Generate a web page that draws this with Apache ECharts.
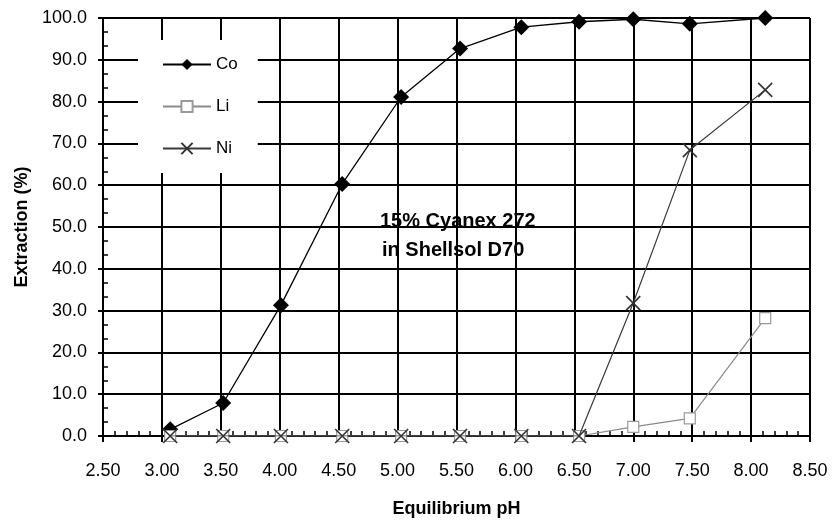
<!DOCTYPE html>
<html>
<head>
<meta charset="utf-8">
<script src="https://cdn.jsdelivr.net/npm/echarts@6/dist/echarts.min.js"></script>
<style>
html,body{margin:0;padding:0;background:#fff;}
#chart{width:837px;height:525px;}
</style>
</head>
<body>
<div id="chart"></div>
<script>
// ---- data ----
const pH = [3.07, 3.52, 4.01, 4.53, 5.03, 5.53, 6.05, 6.54, 7.00, 7.48, 8.12];
const coValues = [1.6, 7.9, 31.3, 60.3, 81.1, 92.7, 97.8, 99.1, 99.7, 98.6, 100.0];
const liValues = [0, 0, 0, 0, 0, 0, 0, 0, 2.2, 4.2, 28.2];
const niValues = [0, 0, 0, 0, 0, 0, 0, 0, 31.8, 68.4, 82.8];
const seriesNames = ['Co', 'Li', 'Ni'];
const xTitle = 'Equilibrium pH';
const yTitle = 'Extraction (%)';
const noteLines = ['15% Cyanex 272', 'in Shellsol D70'];

const pairs = (ys) => pH.map((x, i) => [x, ys[i]]);
const FONT = '"Liberation Sans", Arial, sans-serif';

const chart = echarts.init(document.getElementById('chart'));
chart.setOption({
  animation: false,
  backgroundColor: '#fff',
  textStyle: { fontFamily: FONT, color: '#000' },
  grid: { left: 103, right: 27, top: 18, bottom: 89, containLabel: false },
  legend: {
    data: seriesNames,
    orient: 'vertical',
    left: 138, top: 40,
    padding: [16, 20, 16, 24],
    backgroundColor: '#fff',
    itemWidth: 48, itemHeight: 14, itemGap: 25,
    textStyle: { fontFamily: FONT, fontSize: 17, color: '#000' },
    z: 10
  },
  graphic: [
    { type: 'text', left: 380, top: 211, z: -1, zlevel: 0,
      style: { text: noteLines[0], font: 'bold 20px ' + FONT, fill: '#000' } },
    { type: 'text', left: 382, top: 240, z: -1, zlevel: 0,
      style: { text: noteLines[1], font: 'bold 20px ' + FONT, fill: '#000' } }
  ],
  xAxis: [
    {
      type: 'value', min: 2.5, max: 8.5, interval: 0.5, position: 'bottom', z: 3,
      name: xTitle, nameLocation: 'middle', nameGap: 64,
      nameTextStyle: { fontFamily: FONT, fontSize: 18, fontWeight: 'bold', color: '#000' },
      axisLine: { show: true, lineStyle: { color: '#000', width: 2 } },
      axisTick: { show: true, inside: false, length: 6, lineStyle: { color: '#000', width: 2 } },
      axisLabel: { fontFamily: FONT, fontSize: 18, color: '#000', margin: 26,
                   formatter: v => v.toFixed(2) },
      splitLine: { show: true, lineStyle: { color: '#000', width: 2 } }
    },
    {
      type: 'value', min: 2.5, max: 8.5, interval: 0.1, position: 'bottom', z: 3,
      axisLine: { show: false },
      axisTick: { show: true, inside: true, length: 5, lineStyle: { color: '#000', width: 1.5 } },
      axisLabel: { show: false },
      splitLine: { show: false }
    }
  ],
  yAxis: [
    {
      type: 'value', min: 0, max: 100, interval: 10, position: 'left', z: 3,
      name: yTitle, nameLocation: 'middle', nameGap: 64, nameRotate: 90,
      nameTextStyle: { fontFamily: FONT, fontSize: 18, fontWeight: 'bold', color: '#000' },
      axisLine: { show: true, lineStyle: { color: '#000', width: 2 } },
      axisTick: { show: true, inside: false, length: 5, lineStyle: { color: '#000', width: 2 } },
      axisLabel: { fontFamily: FONT, fontSize: 18, color: '#000', margin: 16,
                   formatter: v => v.toFixed(1) },
      splitLine: { show: true, lineStyle: { color: '#000', width: 2 } }
    },
    {
      type: 'value', min: 0, max: 100, interval: 10 / 3, position: 'left', z: 3,
      axisLine: { show: false },
      axisTick: { show: true, inside: true, length: 5, lineStyle: { color: '#000', width: 1.5 } },
      axisLabel: { show: false },
      splitLine: { show: false }
    }
  ],
  series: [
    {
      name: seriesNames[0], type: 'line', xAxisIndex: 0, yAxisIndex: 0, z: 4,
      data: pairs(coValues),
      symbol: 'diamond', symbolSize: 16,
      lineStyle: { color: '#000', width: 1.3 },
      itemStyle: { color: '#000', borderColor: '#000', borderWidth: 0 }
    },
    {
      name: seriesNames[1], type: 'line', xAxisIndex: 0, yAxisIndex: 0, z: 5,
      data: pairs(liValues),
      symbol: 'rect', symbolSize: 11,
      lineStyle: { color: '#8a8a8a', width: 1.2 },
      itemStyle: { color: '#fff', borderColor: '#9a9a9a', borderWidth: 1.2 }
    },
    {
      name: seriesNames[2], type: 'line', xAxisIndex: 0, yAxisIndex: 0, z: 6,
      data: pairs(niValues),
      symbol: 'path://M0,0L10,10M10,0L0,10', symbolSize: 14,
      lineStyle: { color: '#3a3a3a', width: 1.2 },
      itemStyle: { color: '#333', borderColor: '#333', borderWidth: 1.6 }
    }
  ]
});
</script>
</body>
</html>
